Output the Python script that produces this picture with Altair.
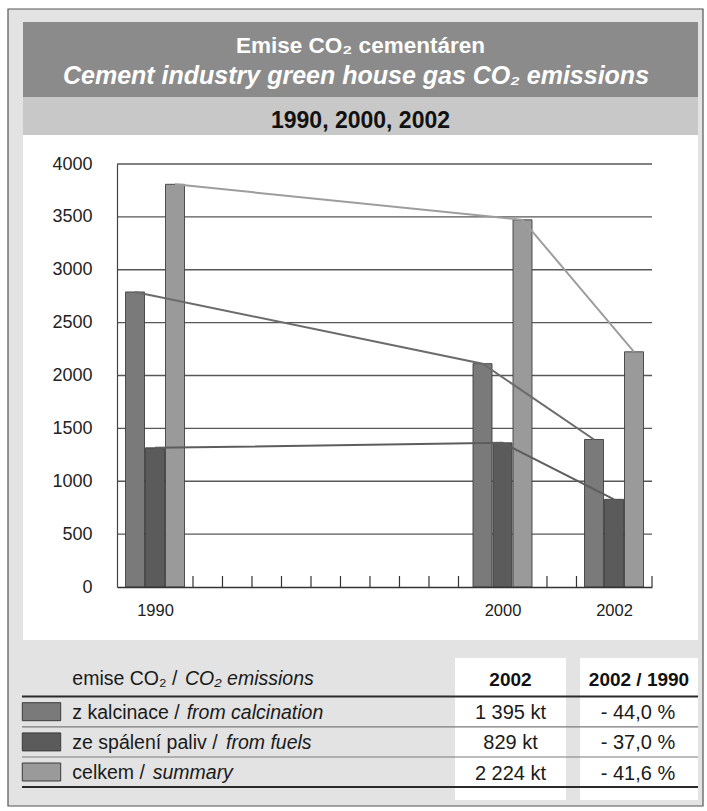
import altair as alt
import pandas as pd

# ---------------- data ----------------
years = [1990, 2000, 2002]
calcination = [2790, 2112, 1395]   # kt CO2 from calcination
fuels = [1316, 1363, 829]          # kt CO2 from fuel combustion
total = [3808, 3472, 2224]         # kt CO2 summary

series_keys = ["calcination", "fuels", "total"]
series_values = [calcination, fuels, total]
series_cz = ["z kalcinace / ", "ze spálení paliv / ", "celkem / "]
series_en = ["from calcination", "from fuels", "summary"]
change_2002_vs_1990 = [-44.0, -37.0, -41.6]   # %
y_ticks = list(range(0, 4001, 500))
minor_tick_index = list(range(18))

# ---------------- styling ----------------
SANS = "Liberation Sans, Arial, Helvetica, sans-serif"
bar_colors = ["#7a7a7a", "#5b5b5b", "#9a9a9a"]
line_colors = ["#6b6b6b", "#5d5d5d", "#9d9d9d"]
bar_shift = [-20, 0, 20]

# canvas and plot-area geometry (pixels)
CANVAS_W, CANVAS_H = 707, 811
X0, Y0 = 117, 164
PW, PH = 535, 423


def px(x):
    return x - X0


def py(y):
    return y - Y0


one = pd.DataFrame({"k": [0]})


def box(x0, y0, x1, y1, fill, stroke=None, sw=0.0):
    kw = dict(fill=fill)
    if stroke:
        kw.update(stroke=stroke, strokeWidth=sw)
    else:
        kw.update(strokeWidth=0)
    return alt.Chart(one).mark_rect(**kw).encode(
        x=alt.value(px(x0)), x2=alt.value(px(x1)),
        y=alt.value(py(y0)), y2=alt.value(py(y1)),
    )


def hline(x0, x1, y, color, width):
    return alt.Chart(one).mark_rule(color=color, strokeWidth=width).encode(
        x=alt.value(px(x0)), x2=alt.value(px(x1)), y=alt.value(py(y))
    )


def label(text, x, y, size, color="#1a1a1a", weight="normal", style="normal",
          align="left", font=SANS):
    return alt.Chart(one).mark_text(
        text=text, fontSize=size, fontWeight=weight, fontStyle=style,
        color=color, align=align, baseline="alphabetic", font=font,
    ).encode(x=alt.value(px(x)), y=alt.value(py(y)))


# ---------------- background panels ----------------
decor = [
    box(8, 9, 703, 806, "#e3e3e3", "#555555", 1.2),
    box(23, 22, 698, 97, "#8b8b8b"),
    box(23, 97, 698, 135, "#c8c8c8"),
    box(23, 135, 698, 640, "#ffffff"),
    box(455, 658, 566, 800, "#ffffff"),
    box(580, 658, 698, 800, "#ffffff"),
]

# ---------------- chart ----------------
x_scale = alt.Scale(domain=[1989, 1990, 2000, 2002, 2003],
                    range=[0, 38, 385.5, 497, PW], zero=False, nice=False)
y_scale = alt.Scale(domain=[0, 4000], zero=True, nice=False)
x_axis = alt.Axis(values=years, format="d", ticks=False, grid=False,
                  labelPadding=15, labelFont=SANS, labelFontSize=16.5,
                  labelColor="#222222", domainColor="#333333", domainWidth=1.3,
                  title=None, zindex=1, labelFlush=False)
y_axis = alt.Axis(values=y_ticks, format="d", ticks=False, grid=False,
                  labelPadding=25, labelFont=SANS, labelFontSize=18,
                  labelColor="#222222", domainColor="#444444", domainWidth=1.2,
                  title=None, zindex=1)

grid_df = pd.DataFrame({"v": y_ticks[1:]})
gridlines = alt.Chart(grid_df).mark_rule(color="#575757", strokeWidth=1.4).encode(
    x=alt.value(0), x2=alt.value(PW),
    y=alt.Y("v:Q", scale=y_scale, axis=y_axis),
)

rows = []
for key, vals in zip(series_keys, series_values):
    for yr, v in zip(years, vals):
        rows.append({"series": key, "year": yr, "value": v})
df = pd.DataFrame(rows)

X = alt.X("year:Q", scale=x_scale, axis=x_axis)
Y = alt.Y("value:Q", scale=y_scale, axis=y_axis)

bars = [
    alt.Chart(df).transform_filter(alt.datum.series == key).mark_bar(
        width=19, xOffset=shift, fill=col, stroke="#404040", strokeWidth=0.9
    ).encode(x=X, y=Y)
    for key, shift, col in zip(series_keys, bar_shift, bar_colors)
]
lines = [
    alt.Chart(df).transform_filter(alt.datum.series == key).mark_line(
        xOffset=shift, color=col, strokeWidth=2
    ).encode(x=X, y=Y)
    for key, shift, col in zip(series_keys, bar_shift, line_colors)
]
plot = alt.layer(gridlines, *bars, *lines)

# minor tick marks along the category axis
tick_df = pd.DataFrame({"i": minor_tick_index})
minor_ticks = alt.Chart(tick_df).mark_rule(color="#333333", strokeWidth=1.2).encode(
    x=alt.X("i:Q", scale=alt.Scale(domain=[-0.576, 17.56], zero=False, nice=False),
            axis=None),
    y=alt.value(PH - 11), y2=alt.value(PH),
)
end_tick = alt.Chart(one).mark_rule(color="#333333", strokeWidth=1.2).encode(
    x=alt.value(PW), y=alt.value(PH - 11), y2=alt.value(PH)
)

# ---------------- titles ----------------
titles = [
    label("Emise CO₂ cementáren", 360.5, 53, 22.5, "#ffffff", "bold", align="center"),
    label("Cement industry green house gas CO₂ emissions", 356, 84, 25, "#ffffff",
          "bold", "italic", align="center"),
    label("1990, 2000, 2002", 360.5, 128, 23, "#111111", "bold", align="center"),
]

# ---------------- summary table ----------------
table = [
    hline(22, 698, 696.5, "#2a2a2a", 2.2),
    hline(22, 698, 726.8, "#7a7a7a", 1.2),
    hline(22, 698, 757, "#7a7a7a", 1.2),
    hline(22, 698, 787, "#2a2a2a", 2.2),
    label("emise CO₂ / ", 72.3, 684.5, 19.5, "#1a1a1a"),
    label("CO₂ emissions", 185, 684.5, 19.5, "#1a1a1a", style="italic"),
    label("2002", 510.5, 686, 19, "#111111", "bold", align="center"),
    label("2002 / 1990", 639, 686, 19, "#111111", "bold", align="center"),
]
italic_x = [186.7, 226, 152.7]
row_mid = [711.7, 741.9, 772]
for i in range(3):
    table.append(box(22.3, row_mid[i] - 9, 60.7, row_mid[i] + 9, bar_colors[i],
                     "#3a3a3a", 1.0))
    table.append(label(series_cz[i], 72.3, row_mid[i] + 7, 19.5, "#1a1a1a"))
    table.append(label(series_en[i], italic_x[i], row_mid[i] + 7, 19.5, "#1a1a1a",
                       style="italic"))
    kt = f"{series_values[i][-1]:,}".replace(",", " ") + " kt"
    pct = f"- {abs(change_2002_vs_1990[i]):.1f} %".replace(".", ",")
    table.append(label(kt, 510.5, row_mid[i] + 7.5, 20, "#1a1a1a", align="center"))
    table.append(label(pct, 638, row_mid[i] + 7.5, 20, "#1a1a1a", align="center"))

chart = alt.layer(
    *decor, minor_ticks, end_tick, plot, *titles, *table
).resolve_scale(x="independent").properties(
    width=PW, height=PH,
    padding={"left": X0, "top": Y0, "right": CANVAS_W - X0 - PW,
             "bottom": CANVAS_H - Y0 - PH},
    autosize=alt.AutoSizeParams(type="none"),
    background="#ffffff",
).configure_view(strokeWidth=0)

chart.save("out.html", embed_options={"renderer": "svg", "actions": False})
